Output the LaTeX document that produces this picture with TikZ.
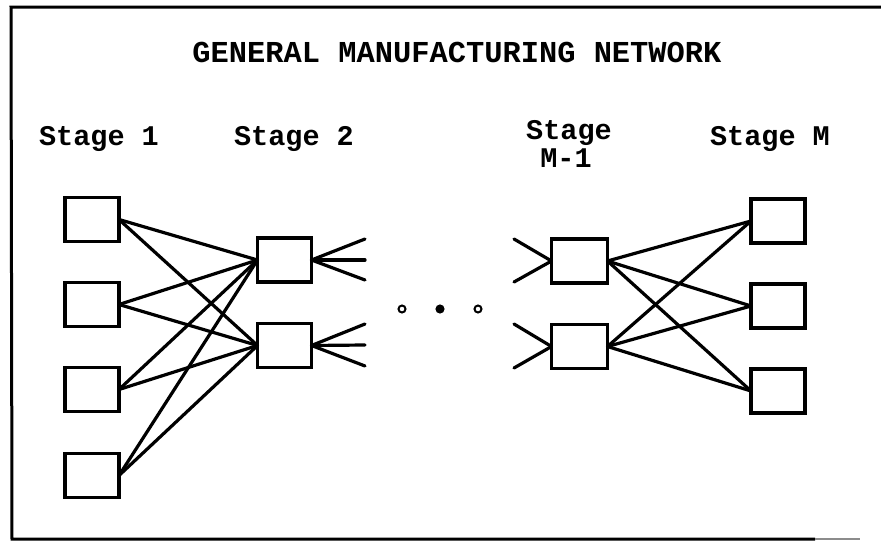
\documentclass[tikz,border=0pt]{standalone}
\usepackage{fontspec}
\setmonofont{Liberation Mono}
\begin{document}
\begin{tikzpicture}[x=1pt,y=-1pt,
  unit/.style={draw,line width=3.2pt,inner sep=0pt,outer sep=0pt,
    minimum width=54pt,minimum height=44pt},
  link/.style={line width=3.2pt,line cap=round},
  lbl/.style={font=\ttfamily\bfseries\fontsize{28.5}{22}\selectfont,inner sep=0pt,anchor=base},
  dot/.style={circle,draw,line width=2pt,inner sep=0pt,minimum size=7pt}]
\useasboundingbox (0,0) rectangle (881,541);

% outer frame (open on the right)
\draw[line width=3pt] (881,7) -- (11,7) -- (12,539) -- (815,539);
\draw[line width=2pt,black!45] (815,539) -- (860,539);

% headings
\node[lbl,font=\ttfamily\bfseries\fontsize{30.4}{22}\selectfont] (title) at (457,62) {GENERAL MANUFACTURING NETWORK};
\node[lbl] (h1) at (99,145) {Stage 1};
\node[lbl] (h2) at (294,145) {Stage 2};
\node[lbl] (h3) at (569,139) {Stage};
\node[lbl] (h3b) at (566,167) {M-1};
\node[lbl] (h4) at (770,145) {Stage M};

% stage 1
\node[unit] (a1) at (92,219.5) {};
\node[unit] (a2) at (92,304.5) {};
\node[unit] (a3) at (92,389.5) {};
\node[unit] (a4) at (92,475.5) {};
% stage 2
\node[unit] (b1) at (284.5,260) {};
\node[unit] (b2) at (284.5,345.5) {};
% stage M-1
\node[unit,minimum width=56pt] (c1) at (579.5,261) {};
\node[unit,minimum width=56pt] (c2) at (579.5,346.5) {};
% stage M
\node[unit] (d1) at (778,221) {};
\node[unit] (d2) at (778,306) {};
\node[unit] (d3) at (778,391) {};

% stage 1 -> stage 2
\foreach \i in {1,2,3,4}{
  \foreach \j in {1,2}{
    \draw[link] (a\i.east) -- (b\j.west);
  }
}
% stage M-1 -> stage M
\foreach \i in {1,2}{
  \foreach \j in {1,2,3}{
    \draw[link] (c\i.east) -- (d\j.west);
  }
}

% loose ends leaving stage 2
\coordinate (o1) at (365,239);
\coordinate (o2) at (365,260);
\coordinate (o3) at (365,280);
\coordinate (o4) at (365,324);
\coordinate (o5) at (365,345);
\coordinate (o6) at (365,366);
\foreach \k in {1,2,3}{\draw[link] (b1.east) -- (o\k);}
\foreach \k in {4,5,6}{\draw[link] (b2.east) -- (o\k);}

% loose ends entering stage M-1
\coordinate (i1) at (514,239);
\coordinate (i2) at (514,282);
\coordinate (i3) at (514,324);
\coordinate (i4) at (514,368);
\draw[link] (i1) -- (c1.west);
\draw[link] (i2) -- (c1.west);
\draw[link] (i3) -- (c2.west);
\draw[link] (i4) -- (c2.west);

% ellipsis between the stages
\node[dot] (e1) at (402,309) {};
\node[dot,fill] (e2) at (440,309) {};
\node[dot] (e3) at (478,309) {};
\end{tikzpicture}
\end{document}
